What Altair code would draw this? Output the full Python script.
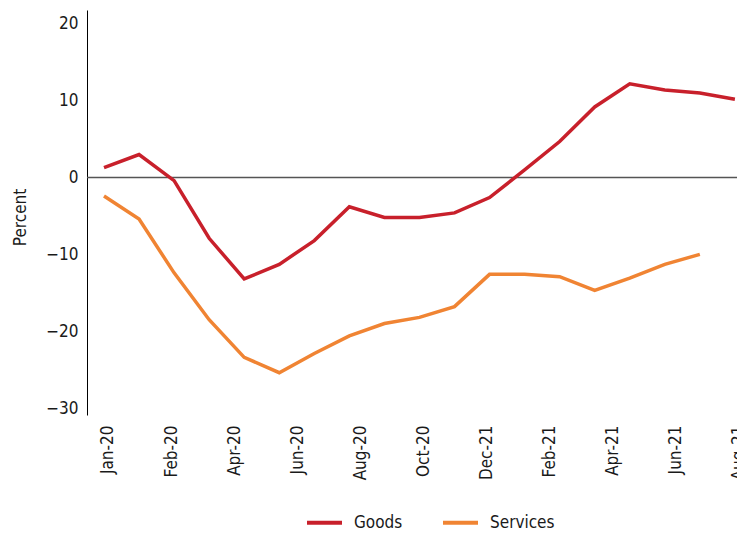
import altair as alt
import pandas as pd

# ---- data ----
tick_labels = ["Jan-20", "Feb-20", "Apr-20", "Jun-20", "Aug-20", "Oct-20",
               "Dec-21", "Feb-21", "Apr-21", "Jun-21", "Aug-21"]
goods = [1.3, 3.0, -0.4, -7.9, -13.2, -11.3, -8.2, -3.8, -5.2, -5.2,
         -4.6, -2.6, 1.0, 4.7, 9.2, 12.2, 11.4, 11.0, 10.2]
services = [-2.4, -5.4, -12.4, -18.5, -23.4, -25.4, -22.9, -20.6, -19.0, -18.2,
            -16.8, -12.6, -12.6, -12.9, -14.7, -13.1, -11.3, -10.0]
series_names = ["Goods", "Services"]
series_colors = ["#C8202B", "#F08433"]
y_ticks = [-30, -20, -10, 0, 10, 20]

rows = []
for name, vals in zip(series_names, [goods, services]):
    for i, v in enumerate(vals):
        rows.append({"period": i, "value": v, "series": name})
df = pd.DataFrame(rows)

n_last = len(goods) - 1
step = n_last / (len(tick_labels) - 1)
tick_positions = [k * step for k in range(len(tick_labels))]
label_expr = "[" + ",".join("'%s'" % t for t in tick_labels) + "][round(datum.value / %s)]" % step

FONT = "'Liberation Sans Narrow', 'DejaVu Sans Condensed', 'Open Sans', sans-serif"
TXT = "#1a1a1a"

x_enc = alt.X(
    "period:Q",
    scale=alt.Scale(domain=[-0.485, 18.06], nice=False, zero=False),
    axis=alt.Axis(values=tick_positions, labelExpr=label_expr, labelAngle=-90,
                  labelAlign="right", labelBaseline="middle", labelOffset=4,
                  labelFlush=False, labelOverlap=False, domain=False, ticks=False,
                  grid=False, title=None, labelPadding=10, labelFontSize=17,
                  labelFont=FONT, labelColor=TXT),
)
y_enc = alt.Y(
    "value:Q",
    scale=alt.Scale(domain=[-30.91, 21.82], nice=False, zero=False),
    axis=alt.Axis(values=y_ticks, title="Percent", grid=False, ticks=False,
                  domainColor="#000000", domainWidth=1, labelPadding=9,
                  labelFontSize=17, labelFont=FONT, labelColor=TXT, labelFlush=False,
                  titleFontSize=17, titleFont=FONT, titleColor=TXT,
                  titleFontWeight="normal", titleX=-67, titleY=207, titleAngle=-90,
                  titleAlign="center", titleBaseline="middle"),
)

zero = alt.Chart(pd.DataFrame({"zero": [0]})).mark_rule(
    color="#555555", strokeWidth=1.5
).encode(y=alt.Y("zero:Q"))

lines = alt.Chart(df).mark_line(strokeWidth=3.5).encode(
    x=x_enc,
    y=y_enc,
    color=alt.Color(
        "series:N",
        scale=alt.Scale(domain=series_names, range=series_colors),
        legend=alt.Legend(orient="none", legendX=218, legendY=493,
                          direction="horizontal", title=None, symbolType="stroke",
                          symbolSize=1225, symbolStrokeWidth=4, labelFontSize=17,
                          labelFont=FONT, labelColor=TXT, labelOffset=10,
                          columnPadding=32),
    ),
)

chart = alt.layer(zero, lines).properties(
    width=650,
    height=405,
    autosize=alt.AutoSizeParams(type="none"),
    padding={"left": 79, "top": 2, "right": 0, "bottom": 117},
).configure_view(stroke=None)

chart.save("out.html", embed_options={"renderer": "svg", "actions": False})
